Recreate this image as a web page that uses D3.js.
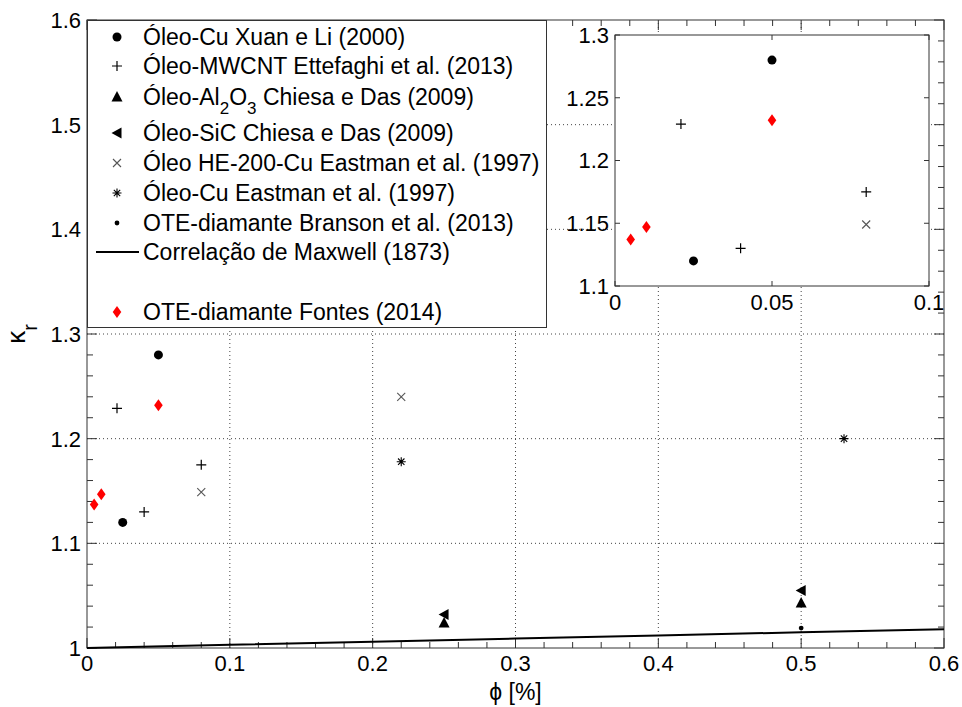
<!DOCTYPE html>
<html>
<head>
<meta charset="utf-8">
<script src="https://cdn.jsdelivr.net/npm/d3@7"></script>
<style>
    body { margin: 0; background: #fff; }
    text { font-family: "Liberation Sans", Arial, sans-serif; fill: #000; }
</style>
</head>
<body>
<div id="graphic"></div>
<script>
// Data (phi in %, kr = k_nf / k_f)
var xuanPhi = [0.025, 0.05];
var xuanK = [1.12, 1.28];
var ettefaghiPhi = [0.021, 0.04, 0.08];
var ettefaghiK = [1.229, 1.13, 1.175];
var alPhi = [0.25, 0.5];
var alK = [1.024, 1.043];
var sicPhi = [0.25, 0.5];
var sicK = [1.032, 1.055];
var he200Phi = [0.08, 0.22];
var he200K = [1.149, 1.24];
var eastmanPhi = [0.22, 0.53];
var eastmanK = [1.178, 1.2];
var bransonPhi = [0.5];
var bransonK = [1.019];
var maxwellPhi = [0, 0.1, 0.2, 0.3, 0.4, 0.5, 0.6];
var maxwellK = [1.0, 1.003, 1.006, 1.009, 1.012, 1.015, 1.018];
var fontesPhi = [0.005, 0.01, 0.05];
var fontesK = [1.137, 1.147, 1.232];

var xTicks = [0, 0.1, 0.2, 0.3, 0.4, 0.5, 0.6];
var yTicks = [1, 1.1, 1.2, 1.3, 1.4, 1.5, 1.6];
var insetXTicks = [0, 0.05, 0.1];
var insetYTicks = [1.1, 1.15, 1.2, 1.25, 1.3];

var W = 962, H = 707;

var svg = d3.select('#graphic').append('svg')
    .attr('width', W)
    .attr('height', H);

var fmt = d3.format('~g');
var axisColor = '#333';

function zip(a, b) {
    return a.map(function(d, i) { return [d, b[i]]; });
}

var series = [
    { name: 'xuan', pts: zip(xuanPhi, xuanK), marker: 'circle' },
    { name: 'ettefaghi', pts: zip(ettefaghiPhi, ettefaghiK), marker: 'plus' },
    { name: 'al', pts: zip(alPhi, alK), marker: 'tri' },
    { name: 'sic', pts: zip(sicPhi, sicK), marker: 'triLeft' },
    { name: 'he200', pts: zip(he200Phi, he200K), marker: 'cross' },
    { name: 'eastman', pts: zip(eastmanPhi, eastmanK), marker: 'star' },
    { name: 'branson', pts: zip(bransonPhi, bransonK), marker: 'dot' },
    { name: 'fontes', pts: zip(fontesPhi, fontesK), marker: 'diamond' }
];

// draw one marker centred at cx, cy
function drawMarker(g, type, cx, cy) {
    var m = g.append('g').attr('transform', 'translate(' + cx + ',' + cy + ')');
    if (type == 'circle') {
        m.append('circle').attr('r', 4.5).attr('fill', '#000');
    } else if (type == 'plus') {
        m.append('path').attr('d', 'M-5,0H5M0,-5V5')
            .attr('stroke', '#000').attr('stroke-width', 1.2);
    } else if (type == 'tri') {
        m.append('path').attr('d', 'M0,-6L5.5,4.5L-5.5,4.5Z').attr('fill', '#000');
    } else if (type == 'triLeft') {
        m.append('path').attr('d', 'M-5.5,0L4.5,-5.5L4.5,5.5Z').attr('fill', '#000');
    } else if (type == 'cross') {
        m.append('path').attr('d', 'M-4,-4L4,4M-4,4L4,-4')
            .attr('stroke', '#555').attr('stroke-width', 1.1);
    } else if (type == 'star') {
        m.append('path').attr('d', 'M-4.5,0H4.5M0,-4.5V4.5M-3.2,-3.2L3.2,3.2M-3.2,3.2L3.2,-3.2')
            .attr('stroke', '#000').attr('stroke-width', 1.1);
    } else if (type == 'dot') {
        m.append('circle').attr('r', 2.4).attr('fill', '#000');
    } else if (type == 'diamond') {
        m.append('path').attr('d', 'M0,-6L4.3,0L0,6L-4.3,0Z').attr('fill', '#ff0000');
    }
}

// ticks pointing into the plot, major + minor, on all four sides
function boxTicks(g, x, y, xMajor, yMajor, xMinor, yMinor, bigLen, smallLen) {
    var x0 = x.range()[0], x1 = x.range()[1];
    var y0 = y.range()[0], y1 = y.range()[1];
    var t = g.append('g').attr('stroke', axisColor).attr('stroke-width', 1);
    [[xMajor, bigLen], [xMinor, smallLen]].forEach(function(s) {
        s[0].forEach(function(v) {
            t.append('line').attr('x1', x(v)).attr('x2', x(v)).attr('y1', y0).attr('y2', y0 - s[1]);
            t.append('line').attr('x1', x(v)).attr('x2', x(v)).attr('y1', y1).attr('y2', y1 + s[1]);
        });
    });
    [[yMajor, bigLen], [yMinor, smallLen]].forEach(function(s) {
        s[0].forEach(function(v) {
            t.append('line').attr('y1', y(v)).attr('y2', y(v)).attr('x1', x0).attr('x2', x0 + s[1]);
            t.append('line').attr('y1', y(v)).attr('y2', y(v)).attr('x1', x1).attr('x2', x1 - s[1]);
        });
    });
}

/*
 * Main axes
 */
var x = d3.scaleLinear().domain([0, 0.6]).range([87, 944]);
var y = d3.scaleLinear().domain([1, 1.6]).range([648, 20]);

var main = svg.append('g').attr('class', 'main');

// dotted grid
var grid = main.append('g').attr('stroke', '#444').attr('stroke-width', 1)
    .attr('stroke-dasharray', '1,3');
xTicks.slice(1, -1).forEach(function(v) {
    grid.append('line').attr('x1', x(v)).attr('x2', x(v)).attr('y1', y(1)).attr('y2', y(1.6));
});
yTicks.slice(1, -1).forEach(function(v) {
    grid.append('line').attr('y1', y(v)).attr('y2', y(v)).attr('x1', x(0)).attr('x2', x(0.6));
});

var xMinor = d3.range(0, 0.6001, 0.02).filter(function(v) { return Math.round(v * 100) % 10 != 0; });
var yMinor = d3.range(1, 1.6001, 0.02).filter(function(v) { return Math.round(v * 100) % 10 != 0; });
boxTicks(main, x, y, xTicks, yTicks, xMinor, yMinor, 10, 6);

main.append('rect')
    .attr('x', x(0)).attr('y', y(1.6))
    .attr('width', x(0.6) - x(0)).attr('height', y(1) - y(1.6))
    .attr('fill', 'none').attr('stroke', axisColor);

// tick labels
main.selectAll('.xlab').data(xTicks).enter().append('text')
    .attr('class', 'xlab')
    .attr('x', function(d) { return x(d); })
    .attr('y', y(1) + 23)
    .attr('text-anchor', 'middle')
    .style('font-size', '22px')
    .text(fmt);

main.selectAll('.ylab').data(yTicks).enter().append('text')
    .attr('class', 'ylab')
    .attr('x', x(0) - 6)
    .attr('y', function(d) { return y(d); })
    .attr('dy', '0.36em')
    .attr('text-anchor', 'end')
    .style('font-size', '22px')
    .text(fmt);

// axis titles
main.append('text')
    .attr('x', (x(0) + x(0.6)) / 2)
    .attr('y', 700)
    .attr('text-anchor', 'middle')
    .style('font-size', '23px')
    .text('\u03D5 [%]');

var ylab = main.append('text')
    .attr('transform', 'translate(25,' + ((y(1) + y(1.6)) / 2) + ') rotate(-90)')
    .attr('text-anchor', 'middle')
    .style('font-size', '26px');
ylab.append('tspan').text('\u03BA');
ylab.append('tspan').attr('dy', 12).style('font-size', '20px').text('r');

// Maxwell correlation
main.append('path')
    .datum(zip(maxwellPhi, maxwellK))
    .attr('fill', 'none')
    .attr('stroke', '#000')
    .attr('stroke-width', 2)
    .attr('d', d3.line().x(function(d) { return x(d[0]); }).y(function(d) { return y(d[1]); }));

series.forEach(function(s) {
    s.pts.forEach(function(p) { drawMarker(main, s.marker, x(p[0]), y(p[1])); });
});

/*
 * Legend
 */
var legendLabels = [
    ['\u00D3leo-Cu Xuan e Li (2000)'],
    ['\u00D3leo-MWCNT Ettefaghi et al. (2013)'],
    ['\u00D3leo-Al', '2', 'O', '3', ' Chiesa e Das (2009)'],
    ['\u00D3leo-SiC Chiesa e Das (2009)'],
    ['\u00D3leo HE-200-Cu Eastman et al. (1997)'],
    ['\u00D3leo-Cu Eastman et al. (1997)'],
    ['OTE-diamante Branson et al. (2013)'],
    ['Correla\u00E7\u00E3o de Maxwell (1873)'],
    ['OTE-diamante Fontes (2014)']
];
var legendMarkers = ['circle', 'plus', 'tri', 'triLeft', 'cross', 'star', 'dot', 'line', 'diamond'];
var legendRows = [37, 66, 97, 133, 163, 193, 223, 252, 312];

var legend = svg.append('g').attr('class', 'legend');
legend.append('rect')
    .attr('x', 87.5).attr('y', 20.5)
    .attr('width', 459).attr('height', 307)
    .attr('fill', '#fff').attr('stroke', axisColor);

legendLabels.forEach(function(parts, i) {
    var cy = legendRows[i];
    if (legendMarkers[i] == 'line') {
        legend.append('line').attr('x1', 96).attr('x2', 139).attr('y1', cy).attr('y2', cy)
            .attr('stroke', '#000').attr('stroke-width', 2);
    } else {
        drawMarker(legend, legendMarkers[i], 117, cy);
    }
    var t = legend.append('text')
        .attr('x', 143).attr('y', cy).attr('dy', '0.36em')
        .style('font-size', '23px');
    parts.forEach(function(p, j) {
        var sub = parts.length > 1 && (j == 1 || j == 3);
        var ts = t.append('tspan').text(p);
        if (sub) {
            ts.attr('dy', 9).style('font-size', '17px');
        } else if (j > 0) {
            ts.attr('dy', -9);
        }
    });
});

/*
 * Inset (zoom on the low concentrations)
 */
var xi = d3.scaleLinear().domain([0, 0.1]).range([615, 929]);
var yi = d3.scaleLinear().domain([1.1, 1.3]).range([286, 35]);

var inset = svg.append('g').attr('class', 'inset');
inset.append('rect')
    .attr('x', xi(0)).attr('y', yi(1.3))
    .attr('width', xi(0.1) - xi(0)).attr('height', yi(1.1) - yi(1.3))
    .attr('fill', '#fff');

boxTicks(inset, xi, yi, insetXTicks, insetYTicks, [], [], 5, 0);

inset.append('rect')
    .attr('x', xi(0)).attr('y', yi(1.3))
    .attr('width', xi(0.1) - xi(0)).attr('height', yi(1.1) - yi(1.3))
    .attr('fill', 'none').attr('stroke', axisColor);

inset.selectAll('.xlab').data(insetXTicks).enter().append('text')
    .attr('class', 'xlab')
    .attr('x', function(d) { return xi(d); })
    .attr('y', yi(1.1) + 24)
    .attr('text-anchor', 'middle')
    .style('font-size', '22px')
    .text(fmt);

inset.selectAll('.ylab').data(insetYTicks).enter().append('text')
    .attr('class', 'ylab')
    .attr('x', xi(0) - 6)
    .attr('y', function(d) { return yi(d); })
    .attr('dy', '0.36em')
    .attr('text-anchor', 'end')
    .style('font-size', '22px')
    .text(fmt);

series.forEach(function(s) {
    s.pts.forEach(function(p) {
        if (p[0] <= 0.1 && p[1] >= 1.1 && p[1] <= 1.3) {
            drawMarker(inset, s.marker, xi(p[0]), yi(p[1]));
        }
    });
});
</script>
</body>
</html>
